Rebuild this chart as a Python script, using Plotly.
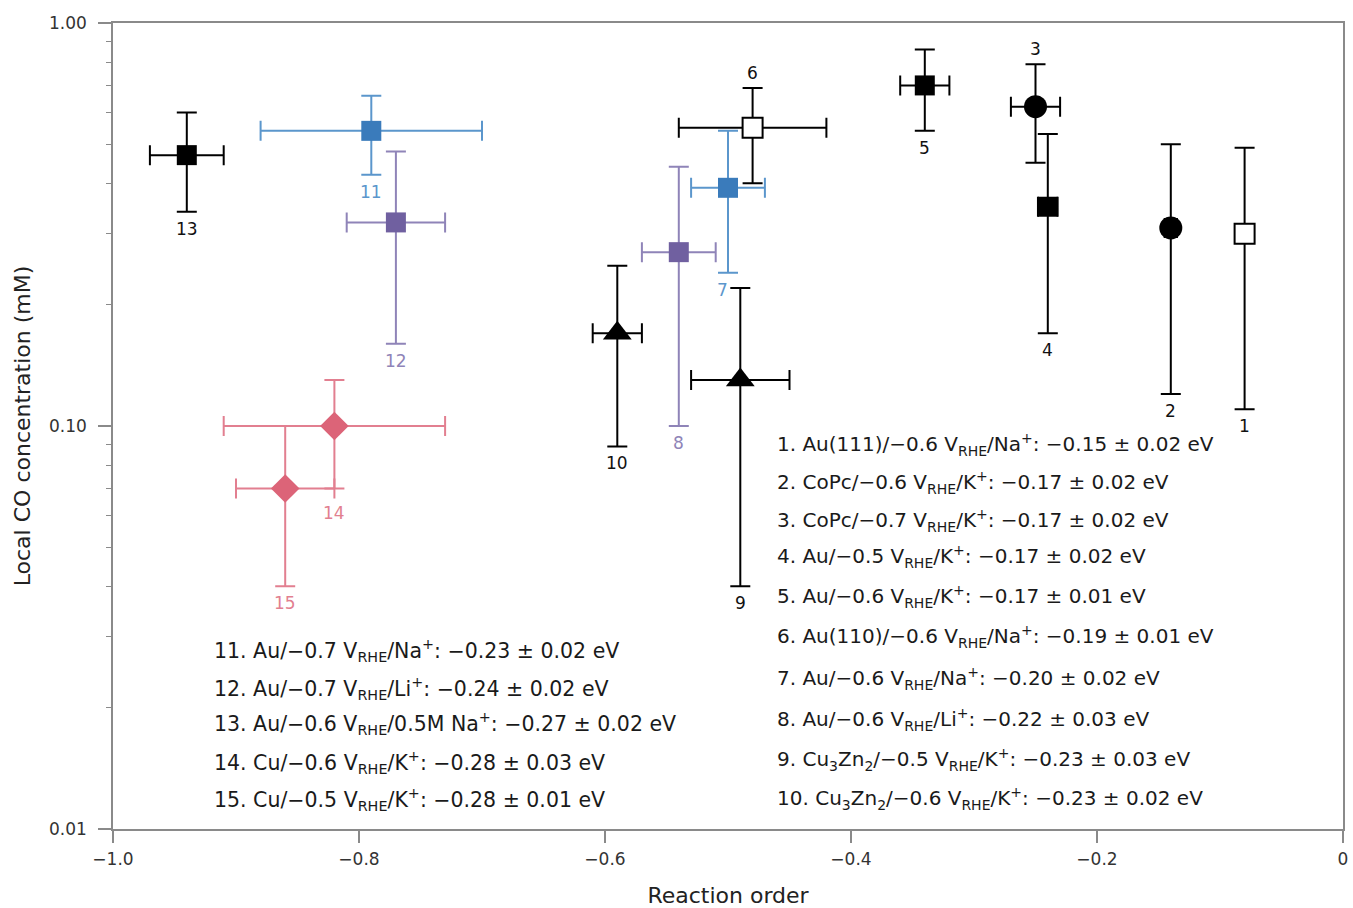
import math
import plotly.graph_objects as go

# ---------------- data ----------------
ids     = [1, 2, 3, 4, 5, 6, 7, 8, 9, 10, 11, 12, 13, 14, 15]
x_order = [-0.08, -0.14, -0.25, -0.24, -0.34, -0.48, -0.50, -0.54, -0.49, -0.59, -0.79, -0.77, -0.94, -0.82, -0.86]
x_err   = [0.005, 0.005, 0.02, 0.008, 0.02, 0.06, 0.03, 0.03, 0.04, 0.02, 0.09, 0.04, 0.03, 0.09, 0.04]
co_mid  = [0.30, 0.31, 0.62, 0.35, 0.70, 0.55, 0.39, 0.27, 0.13, 0.17, 0.54, 0.32, 0.47, 0.10, 0.07]
co_high = [0.49, 0.50, 0.79, 0.53, 0.86, 0.69, 0.54, 0.44, 0.22, 0.25, 0.66, 0.48, 0.60, 0.13, 0.10]
co_low  = [0.11, 0.12, 0.45, 0.17, 0.54, 0.40, 0.24, 0.10, 0.04, 0.089, 0.42, 0.16, 0.34, 0.07, 0.04]
group   = ["open_sq", "black_circ", "black_circ", "black_sq", "black_sq", "open_sq", "blue_sq",
           "purple_sq", "black_tri", "black_tri", "blue_sq", "purple_sq", "black_sq", "pink_dia", "pink_dia"]
label_side = ["below", "below", "above", "below", "below", "above", "below", "below",
              "below", "below", "below", "below", "below", "below", "below"]

right_legend = [
    "1. Au(111)/−0.6 V<sub>RHE</sub>/Na<sup>+</sup>: −0.15 ± 0.02 eV",
    "2. CoPc/−0.6 V<sub>RHE</sub>/K<sup>+</sup>: −0.17 ± 0.02 eV",
    "3. CoPc/−0.7 V<sub>RHE</sub>/K<sup>+</sup>: −0.17 ± 0.02 eV",
    "4. Au/−0.5 V<sub>RHE</sub>/K<sup>+</sup>: −0.17 ± 0.02 eV",
    "5. Au/−0.6 V<sub>RHE</sub>/K<sup>+</sup>: −0.17 ± 0.01 eV",
    "6. Au(110)/−0.6 V<sub>RHE</sub>/Na<sup>+</sup>: −0.19 ± 0.01 eV",
    "7. Au/−0.6 V<sub>RHE</sub>/Na<sup>+</sup>: −0.20 ± 0.02 eV",
    "8. Au/−0.6 V<sub>RHE</sub>/Li<sup>+</sup>: −0.22 ± 0.03 eV",
    "9. Cu<sub>3</sub>Zn<sub>2</sub>/−0.5 V<sub>RHE</sub>/K<sup>+</sup>: −0.23 ± 0.03 eV",
    "10. Cu<sub>3</sub>Zn<sub>2</sub>/−0.6 V<sub>RHE</sub>/K<sup>+</sup>: −0.23 ± 0.02 eV",
]
left_legend = [
    "11. Au/−0.7 V<sub>RHE</sub>/Na<sup>+</sup>: −0.23 ± 0.02 eV",
    "12. Au/−0.7 V<sub>RHE</sub>/Li<sup>+</sup>: −0.24 ± 0.02 eV",
    "13. Au/−0.6 V<sub>RHE</sub>/0.5M Na<sup>+</sup>: −0.27 ± 0.02 eV",
    "14. Cu/−0.6 V<sub>RHE</sub>/K<sup>+</sup>: −0.28 ± 0.03 eV",
    "15. Cu/−0.5 V<sub>RHE</sub>/K<sup>+</sup>: −0.28 ± 0.01 eV",
]

x_ticks = [-1.0, -0.8, -0.6, -0.4, -0.2, 0.0]
x_ticktext = ["−1.0", "−0.8", "−0.6", "−0.4", "−0.2", "0"]
y_ticks = [0.01, 0.1, 1.0]
y_ticktext = ["0.01", "0.10", "1.00"]

# ---------------- styles ----------------
BLUE, BLUE_L = "#3a7bbb", "#5b96cc"
PURP, PURP_L = "#7060a0", "#8f84b8"
PINK, PINK_L = "#dc6478", "#e27f90"
styles = {
    "open_sq":    dict(symbol="square", fill="white", line="black", bar="black", size=20, text="#111"),
    "black_sq":   dict(symbol="square", fill="black", line="black", bar="black", size=20, text="#111"),
    "black_circ": dict(symbol="circle", fill="black", line="black", bar="black", size=23, text="#111"),
    "black_tri":  dict(symbol="triangle-up", fill="black", line="black", bar="black", size=25, text="#111"),
    "blue_sq":    dict(symbol="square", fill=BLUE, line=BLUE, bar=BLUE_L, size=20, text=BLUE_L),
    "purple_sq":  dict(symbol="square", fill=PURP, line=PURP, bar=PURP_L, size=20, text=PURP_L),
    "pink_dia":   dict(symbol="diamond", fill=PINK, line=PINK, bar=PINK_L, size=22, text=PINK_L),
}

FONT = "DejaVu Sans, Liberation Sans, Arial, sans-serif"
fig = go.Figure()

for i in range(len(ids)):
    st = styles[group[i]]
    fig.add_trace(go.Scatter(
        x=[x_order[i]], y=[co_mid[i]], mode="markers", showlegend=False,
        marker=dict(symbol=st["symbol"], size=st["size"], color=st["fill"],
                    line=dict(color=st["line"], width=2 if st["fill"] == "white" else 0)),
        error_x=dict(type="data", array=[x_err[i]], arrayminus=[x_err[i]],
                     color=st["bar"], thickness=2, width=10),
        error_y=dict(type="data", array=[co_high[i] - co_mid[i]], arrayminus=[co_mid[i] - co_low[i]],
                     color=st["bar"], thickness=2, width=10),
    ))

# number labels
for i in range(len(ids)):
    st = styles[group[i]]
    if label_side[i] == "below":
        yv, ya, ys = co_low[i], "top", -5
    else:
        yv, ya, ys = co_high[i], "bottom", 3
    if ids[i] == 14:
        ys = -13
    fig.add_annotation(x=x_order[i], y=math.log10(yv), text=str(ids[i]), showarrow=False,
                       xanchor="center", yanchor=ya, yshift=ys,
                       xshift=-6 if ids[i] == 7 else 0,
                       font=dict(family=FONT, size=17, color=st["text"]))

# text blocks (pixel positions converted to paper coords)
L, T, W, H = 113, 23, 1230, 806
def px2paper(px, py):
    return (px - L) / W, (T + H - py) / H

right_rows = [444, 482, 520, 557, 596, 636, 678, 719, 759, 798]
for txt, py in zip(right_legend, right_rows):
    xp, yp = px2paper(775, py)
    fig.add_annotation(x=xp, y=yp, xref="paper", yref="paper", text=txt, showarrow=False,
                       xanchor="left", yanchor="middle", align="left",
                       font=dict(family=FONT, size=20, color="#1a1a1a"))
left_rows = [650, 688, 723, 762, 799]
for txt, py in zip(left_legend, left_rows):
    xp, yp = px2paper(212, py)
    fig.add_annotation(x=xp, y=yp, xref="paper", yref="paper", text=txt, showarrow=False,
                       xanchor="left", yanchor="middle", align="left",
                       font=dict(family=FONT, size=20.5, color="#1a1a1a"))

AX = "#8a8a8a"
fig.update_layout(
    width=1353, height=908,
    margin=dict(l=L, r=1353 - L - W, t=T, b=908 - T - H, autoexpand=False),
    paper_bgcolor="white", plot_bgcolor="white",
    font=dict(family=FONT, size=16, color="#222"),
    xaxis=dict(range=[-1.0, 0.0], tickvals=x_ticks, ticktext=x_ticktext, automargin=False,
               ticks="outside", ticklen=12, tickwidth=1.5, tickcolor=AX,
               showline=True, linecolor=AX, linewidth=1.5, mirror=True,
               showgrid=False, zeroline=False, ticklabelstandoff=2,
               tickfont=dict(family=FONT, size=17, color="#333"),
               title=dict(text="Reaction order", font=dict(family=FONT, size=22, color="#222"), standoff=20)),
    yaxis=dict(type="log", range=[-2, 0], tickvals=y_ticks, ticktext=y_ticktext, automargin=False,
               ticks="outside", ticklen=13, tickwidth=1.5, tickcolor=AX,
               minor=dict(tickvals=[m * d for d in (0.01, 0.1) for m in range(2, 10)],
                          ticks="outside", ticklen=5, tickwidth=1.2, tickcolor=AX, showgrid=False),
               showline=True, linecolor=AX, linewidth=1.5, mirror=True,
               showgrid=False, zeroline=False, ticklabelstandoff=8,
               tickfont=dict(family=FONT, size=17, color="#333"),
               title=dict(text="Local CO concentration (mM)", font=dict(family=FONT, size=22, color="#222"), standoff=12)),
)

fig.write_html("out.html", config={"displayModeBar": False},
               post_script="document.body.style.margin='0px';document.body.style.overflow='hidden';")
